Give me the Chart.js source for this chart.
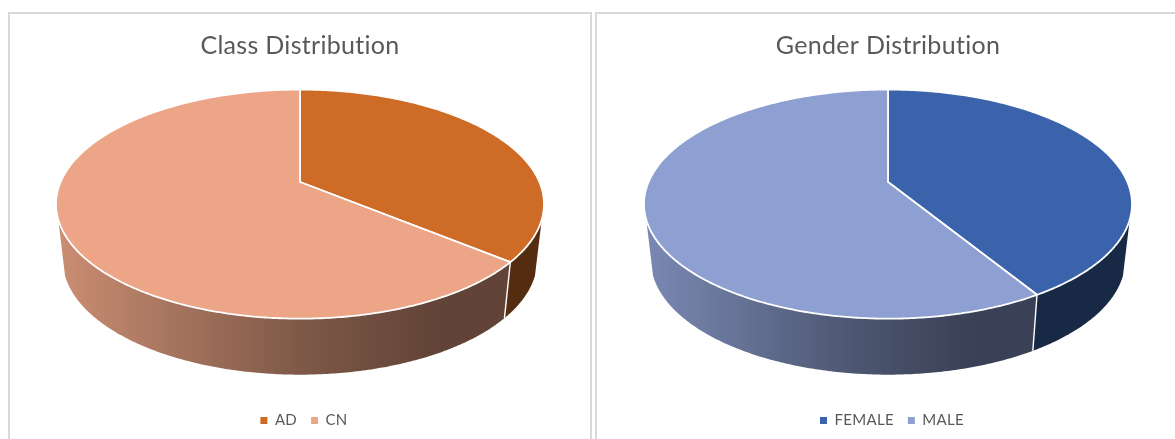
<!DOCTYPE html>
<html>
<head>
<meta charset="utf-8">
<title>Class and Gender Distribution</title>
<script src="https://cdn.jsdelivr.net/npm/chart.js@4"></script>
<style>
  html, body { margin: 0; padding: 0; background: #fff; overflow: hidden; }
  body { width: 1175px; height: 439px; position: relative; }
  .panel { position: absolute; top: 12px; height: 427px; width: 582px; border: 2px solid #d9d9d9; border-bottom: none; box-sizing: border-box; }
  #panelClass { left: 8px; width: 584px; }
  #panelGender { left: 595px; width: 586px; }
  canvas { position: absolute; left: 0; top: 0; }
</style>
</head>
<body>
<div class="panel" id="panelClass"><canvas id="classChart" width="580" height="425"></canvas></div>
<div class="panel" id="panelGender"><canvas id="genderChart" width="582" height="425"></canvas></div>
<script>
const classLabels = ['AD', 'CN'];
const classValues = [36, 64];
const classColors = ['#ce6c27', '#eca586'];

const genderLabels = ['FEMALE', 'MALE'];
const genderValues = [41.3, 58.7];
const genderColors = ['#3b63ab', '#8e9fd1'];

function shade(hex, f) {
  const n = parseInt(hex.slice(1), 16);
  return 'rgb(' + Math.round((n >> 16) * f) + ',' + Math.round(((n >> 8) & 255) * f) + ',' + Math.round((n & 255) * f) + ')';
}

// pie lying on its side, drawn from the arc elements' angles
const tiltedPie = {
  id: 'tiltedPie',
  beforeUpdate(chart, args, opts) {
    // any letter spacing also turns off the "ti" ligature in Lato
    chart.ctx.letterSpacing = opts.spacing;
  },
  afterLayout(chart, args, opts) {
    // legend sits a little right of the pie centre
    chart.legend.left += opts.legendShift;
    chart.legend.right += opts.legendShift;
  },
  beforeDatasetsDraw(chart, args, opts) {
    const ctx = chart.ctx;
    const arcs = chart.getDatasetMeta(0).data;
    const colors = chart.data.datasets[0].backgroundColor;

    function top(el, a) {
      const w = 1 - opts.k * Math.sin(a);
      return {
        x: el.x + el.outerRadius * Math.cos(a) / w,
        y: opts.apexY + opts.squash * el.outerRadius * Math.sin(a) / w
      };
    }
    function bottom(el, a) {
      const p = top(el, a);
      return { x: el.x + (p.x - el.x) * opts.floorScale, y: p.y + opts.depth };
    }
    function samples(from, to) {
      const out = [];
      const n = Math.max(2, Math.ceil((to - from) / 0.01));
      for (let i = 0; i <= n; i++) out.push(from + (to - from) * i / n);
      return out;
    }

    ctx.save();
    ctx.lineJoin = 'round';

    // side walls
    const first = arcs[0];
    const gradEnd = bottom(first, first.endAngle).x;
    const gradStart = first.x - first.outerRadius * 1.02;
    arcs.forEach(function(el, i) {
      const from = Math.max(el.startAngle, opts.wallFrom);
      const to = Math.min(el.endAngle, opts.wallTo);
      if (to <= from) return;
      const g = ctx.createLinearGradient(gradStart, 0, gradEnd, 0);
      g.addColorStop(0, shade(colors[i], 0.86));
      g.addColorStop(0.54, shade(colors[i], 0.54));
      g.addColorStop(0.85, shade(colors[i], 0.41));
      g.addColorStop(1, shade(colors[i], 0.41));
      ctx.beginPath();
      samples(from, to).forEach(function(a) {
        const p = top(el, a);
        ctx.lineTo(p.x, p.y);
      });
      samples(from, to).reverse().forEach(function(a) {
        const p = bottom(el, a);
        ctx.lineTo(p.x, p.y);
      });
      ctx.closePath();
      ctx.fillStyle = g;
      ctx.fill();
    });

    // white seam down the wall
    const seamTop = top(first, first.endAngle);
    const seamBottom = bottom(first, first.endAngle);
    ctx.beginPath();
    ctx.moveTo(seamTop.x, seamTop.y);
    ctx.lineTo(seamBottom.x, seamBottom.y);
    ctx.strokeStyle = '#fff';
    ctx.lineWidth = 1.4;
    ctx.stroke();

    // top face
    arcs.forEach(function(el, i) {
      ctx.beginPath();
      ctx.moveTo(el.x, opts.apexY);
      samples(el.startAngle, el.endAngle).forEach(function(a) {
        const p = top(el, a);
        ctx.lineTo(p.x, p.y);
      });
      ctx.closePath();
      ctx.fillStyle = colors[i];
      ctx.fill();
      ctx.strokeStyle = '#fff';
      ctx.lineWidth = 1.8;
      ctx.stroke();
    });
    ctx.restore();
    return false;
  }
};

function makeChart(id, titleText, labels, values, colors) {
  return new Chart(document.getElementById(id).getContext('2d'), {
    type: 'pie',
    data: {
      labels: labels,
      datasets: [{
        data: values,
        backgroundColor: colors,
        borderWidth: 0
      }]
    },
    options: {
      responsive: false,
      animation: false,
      radius: 239.4,
      layout: { padding: { left: 0, right: 0, bottom: 1 } },
      plugins: {
        title: {
          display: true,
          text: titleText,
          color: '#595959',
          font: { family: 'Lato', size: 25, weight: 'normal' },
          padding: { top: 17, bottom: 10 }
        },
        legend: {
          position: 'bottom',
          labels: {
            boxWidth: 7,
            boxHeight: 7,
            padding: 14,
            color: '#595959',
            font: { family: 'Lato', size: 15 }
          }
        },
        tooltip: { enabled: false },
        tiltedPie: {
          k: 0.193,
          squash: 0.4607,
          apexY: 168,
          depth: 56,
          floorScale: 0.972,
          wallFrom: 0.326,
          wallTo: Math.PI - 0.326,
          legendShift: 4,
          spacing: '0.3px'
        }
      }
    },
    plugins: [tiltedPie]
  });
}

makeChart('classChart', 'Class Distribution', classLabels, classValues, classColors);
makeChart('genderChart', 'Gender Distribution', genderLabels, genderValues, genderColors);
</script>
</body>
</html>
